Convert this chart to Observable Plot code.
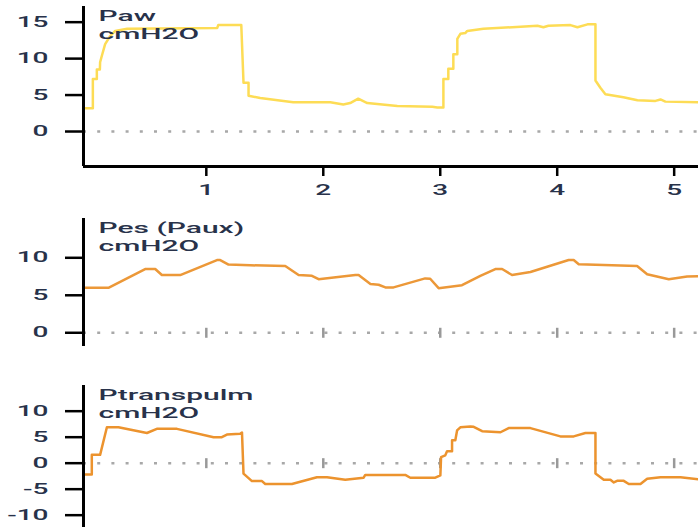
<!DOCTYPE html>
<html><head><meta charset="utf-8">
<script src="https://cdn.jsdelivr.net/npm/d3@7"></script>
<script src="https://cdn.jsdelivr.net/npm/@observablehq/plot@0.6"></script>
<style>body{margin:0;background:#fff;} #chart svg{display:block;}</style>
</head><body><div id="chart"></div>
<script>
const xTicks = [1, 2, 3, 4, 5];
const xDomain = [-0.05, 5.208];

const pawTitle = "Paw\ncmH2O";
const pawTime = [-0.036,0.030,0.030,0.064,0.064,0.090,0.092,0.107,0.135,0.178,0.221,0.323,1.093,1.102,1.299,1.318,1.361,1.361,1.461,1.743,2.060,2.171,2.230,2.299,2.376,2.633,2.932,2.975,3.027,3.027,3.069,3.069,3.112,3.112,3.146,3.146,3.172,3.214,3.231,3.369,3.831,3.882,3.925,4.113,4.173,4.259,4.327,4.327,4.369,4.412,4.566,4.686,4.840,4.883,4.925,5.208];
const pawValue = [3.2,3.2,7.2,7.2,8.5,8.5,9.5,10.4,12.0,13.1,13.8,14.1,14.2,14.6,14.6,6.7,6.7,4.9,4.6,4.0,4.0,3.7,3.9,4.5,3.9,3.5,3.4,3.3,3.3,7.2,7.2,8.6,8.6,10.6,10.6,12.7,13.4,13.5,13.8,14.1,14.5,14.3,14.5,14.6,14.3,14.7,14.7,7.0,6.0,5.1,4.7,4.3,4.2,4.4,4.1,4.0];
const pawTicks = [0, 5, 10, 15];

const pesTitle = "Pes (Paux)\ncmH2O";
const pesTime = [-0.036,0.163,0.477,0.563,0.620,0.777,1.091,1.119,1.190,1.376,1.675,1.789,1.903,1.960,2.274,2.302,2.403,2.473,2.531,2.601,2.871,2.914,2.986,3.186,3.343,3.471,3.529,3.614,3.771,4.098,4.141,4.184,4.683,4.769,4.954,5.111,5.208];
const pesValue = [6.0,6.0,8.5,8.5,7.7,7.7,9.7,9.7,9.1,9.0,8.9,7.7,7.6,7.15,7.7,7.7,6.5,6.4,6.05,6.05,7.25,7.2,5.95,6.35,7.6,8.5,8.5,7.7,8.1,9.7,9.7,9.15,8.9,7.8,7.15,7.5,7.55];
const pesTicks = [0, 5, 10];

const ptpTitle = "Ptranspulm\ncmH2O";
const ptpTime = [-0.036,0.021,0.021,0.092,0.150,0.249,0.492,0.577,0.749,1.062,1.133,1.176,1.290,1.305,1.318,1.390,1.476,1.504,1.732,1.946,2.032,2.188,2.345,2.359,2.701,2.744,2.958,3.001,3.007,3.043,3.058,3.101,3.101,3.129,3.144,3.172,3.258,3.286,3.358,3.515,3.585,3.771,4.027,4.141,4.241,4.327,4.327,4.398,4.455,4.484,4.512,4.569,4.612,4.712,4.769,4.883,5.054,5.208];
const ptpValue = [-2.2,-2.2,1.6,1.6,6.9,6.9,5.8,6.6,6.6,5.0,5.0,5.5,5.65,5.9,-2.0,-3.45,-3.45,-4.0,-4.0,-2.7,-2.7,-3.2,-2.8,-2.25,-2.25,-2.8,-2.8,-2.35,1.15,1.5,2.3,2.3,4.4,4.4,6.3,6.9,7.05,7.0,6.15,5.95,6.75,6.75,5.15,5.15,5.8,5.8,-2.0,-3.2,-3.2,-3.7,-3.4,-3.4,-4.0,-4.0,-3.0,-2.7,-2.7,-3.1];
const ptpTicks = [-10, -5, 0, 5, 10];

const textColor = "#28324a";
const vbar = {draw(ctx, size) { const h = Math.sqrt(size / Math.PI); ctx.moveTo(0, -h); ctx.lineTo(0, h); }};

function stretch(svg, k) {
  svg.querySelectorAll("text").forEach(t => {
    const x = parseFloat(t.getAttribute("x")) || 0;
    const tr = t.getAttribute("transform") || "";
    t.setAttribute("transform", `${tr} translate(${x},0) scale(${k},1) translate(${-x},0)`);
  });
}

function panel({time, value, color, title, height, marginTop, marginBottom, yDomain, yTicks, xAxis}) {
  const table = time.map((t, i) => ({t, v: value[i]}));
  const marks = [
    Plot.ruleY([0], {stroke: "#a8a8a8", strokeWidth: 2.5, strokeDasharray: "3,11.2"})
  ];
  if (!xAxis) marks.push(Plot.dot(xTicks, {x: d => d, y: () => 0, symbol: vbar, r: 5, stroke: "#999", strokeWidth: 2.5, fill: "none"}));
  marks.push(Plot.line(table, {x: "t", y: "v", stroke: color, strokeWidth: 2.5}));
  marks.push(Plot.axisY({ticks: yTicks, tickFormat: d => String(d), tickSize: 18, tickPadding: 17, fontSize: 14, fontWeight: 500, stroke: "black", strokeWidth: 2.5, fill: textColor, label: null}));
  marks.push(Plot.ruleX([xDomain[0]], {stroke: "black", strokeWidth: 3}));
  if (xAxis) {
    marks.push(Plot.ruleY([yDomain[0]], {stroke: "black", strokeWidth: 3}));
    marks.push(Plot.axisX({ticks: xTicks, tickFormat: d => String(d), tickSize: 10, tickPadding: 9, fontSize: 14, fontWeight: 500, stroke: "black", strokeWidth: 2.5, fill: textColor, label: null}));
  }
  marks.push(Plot.text([title], {text: d => d, frameAnchor: "top-left", dx: 15, dy: 1, lineAnchor: "top", fontSize: 15, fontWeight: 500, lineHeight: 1.23, fill: textColor}));
  const svg = Plot.plot({
    width: 698, height, marginLeft: 83, marginRight: 0, marginTop, marginBottom,
    x: {domain: xDomain, axis: null},
    y: {domain: yDomain, axis: null},
    style: {fontFamily: "Roboto", background: "white", overflow: "visible", color: "black"},
    marks
  });
  stretch(svg, 2);
  return svg;
}

const root = document.getElementById("chart");
root.append(panel({time: pawTime, value: pawValue, color: "#fddc55", title: pawTitle, height: 200, marginTop: 6, marginBottom: 34, yDomain: [-4.8, 17.15], yTicks: pawTicks, xAxis: true}));
root.append(panel({time: pesTime, value: pesValue, color: "#ec9838", title: pesTitle, height: 160, marginTop: 18, marginBottom: 14, yDomain: [-1.83, 15.24], yTicks: pesTicks, xAxis: false}));
root.append(panel({time: ptpTime, value: ptpValue, color: "#ec932e", title: ptpTitle, height: 169, marginTop: 25, marginBottom: 2, yDomain: [-12.37, 14.94], yTicks: ptpTicks, xAxis: false}));
</script>
</body></html>
